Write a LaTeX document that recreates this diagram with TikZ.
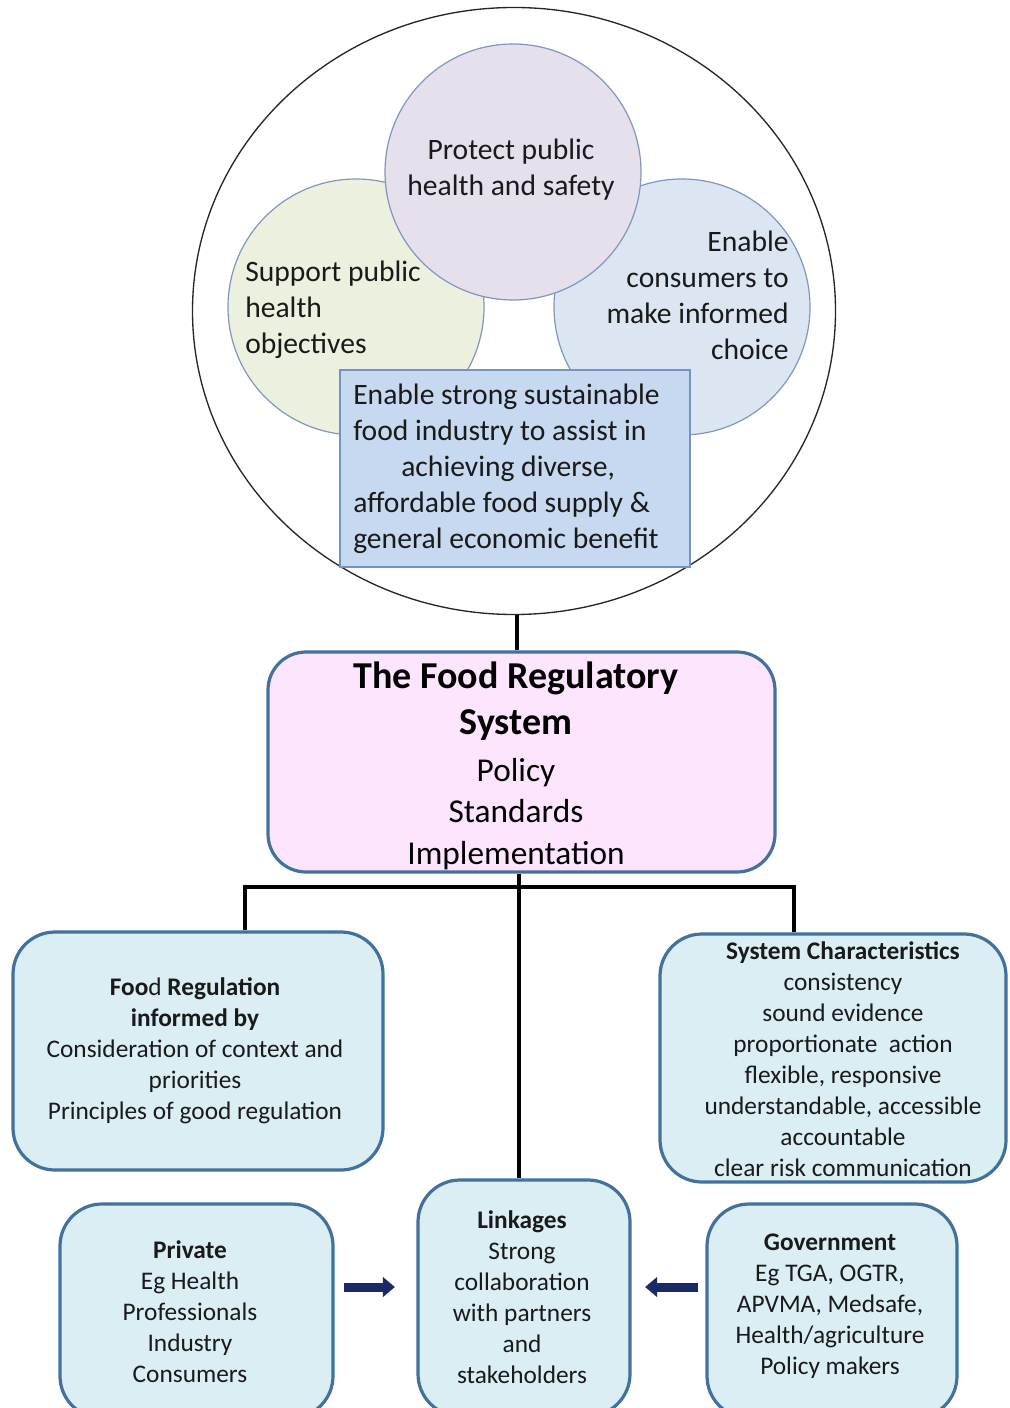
\documentclass[tikz,border=0pt]{standalone}
\usepackage{fontspec}
\setmainfont{Carlito}
\usetikzlibrary{arrows.meta,shapes.geometric}
\newcommand\pxu[1]{#1*0.75pt}
\definecolor{greenf}{HTML}{EBF1DE}
\definecolor{bluef}{HTML}{DCE6F2}
\definecolor{purplef}{HTML}{E6E0EC}
\definecolor{rectf}{HTML}{C6D9F1}
\definecolor{circedge}{HTML}{8096BE}
\definecolor{rectedge}{HTML}{7393C4}
\definecolor{pinkf}{HTML}{FDE5FD}
\definecolor{boxf}{HTML}{DBEEF4}
\definecolor{boxedge}{HTML}{41719C}
\definecolor{navy}{HTML}{1B2A66}
\definecolor{txt}{HTML}{1A1A1A}
\begin{document}
\begin{tikzpicture}[x=0.75pt,y=-0.75pt,
  goalc/.style={circle, draw=circedge, line width=0.9pt, minimum size=\pxu{256}, inner sep=0pt},
  ctext/.style={font=\fontsize{22.2}{27}\selectfont, inner sep=0pt, text=txt},
  rbox/.style={draw=boxedge, line width=2.4pt, fill=boxf, rounded corners=\pxu{42}, inner sep=0pt},
  btext/.style={align=center, inner sep=0pt, text=txt, font=\fontsize{19}{23.2}\selectfont},
  conn/.style={line width=3.4pt, black},
  linkarrow/.style={line width=6.75pt, navy, -{Triangle[length=9pt,width=14.5pt]}}
]
\useasboundingbox (0,0) rectangle (1009,1408);

% goals circle
\node[draw=black!85, line width=1pt, ellipse, minimum width=\pxu{643}, minimum height=\pxu{607}, inner sep=0pt] (goals) at (514,311) {};
\node[goalc, fill=greenf] (health) at (356,307) {};
\node[goalc, fill=bluef] (consumer) at (682,307) {};
\node[goalc, fill=purplef] (protect) at (513,172) {};
\node[ctext, align=center] (protectT) at (511,170) {Protect public\\health and safety};
\node[ctext, align=left, anchor=west] (healthT) at (245,310) {Support public\\health\\objectives};
\node[ctext, align=right, anchor=east] (consumerT) at (789,295) {Enable\\consumers to\\make informed\\choice};
\node[draw=rectedge, line width=0.9pt, fill=rectf, minimum width=\pxu{350}, minimum height=\pxu{197}, inner sep=0pt] (industry) at (515,468.5) {};
\node[ctext, align=left, anchor=west] (industryT) at (353,469) {Enable strong sustainable\\food industry to assist in\\\hspace*{36pt}achieving diverse,\\affordable food supply \&\\general economic benefit};

% food regulatory system
\node[rbox, fill=pinkf, rounded corners=\pxu{38}, minimum width=\pxu{507}, minimum height=\pxu{220}] (frs) at (521.5,762) {};
\node[align=center, inner sep=0pt, text=black, font=\fontsize{25}{31}\selectfont] (frsT) at (516,766) {%
{\fontsize{28.5}{34.5}\selectfont\bfseries The Food Regulatory}\\[3.5pt]
{\fontsize{28.5}{34.5}\selectfont\bfseries System}\\[4pt]
Policy\\
Standards\\
Implementation};

% second row
\node[rbox, minimum width=\pxu{370}, minimum height=\pxu{238}] (inform) at (198,1051) {};
\node[btext] (informT) at (195,1051) {\textbf{Foo}d \textbf{Regulation}\\\textbf{informed by}\\Consideration of context and\\priorities\\Principles of good regulation};
\node[rbox, minimum width=\pxu{346}, minimum height=\pxu{248}] (chars) at (833,1058) {};
\node[btext] (charsT) at (843,1059) {\textbf{System Characteristics}\\consistency\\sound evidence\\proportionate\ \ action\\flexible, responsive\\understandable, accessible\\accountable\\clear risk communication};

% bottom row
\node[rbox, minimum width=\pxu{212}, minimum height=\pxu{236}] (link) at (524,1298) {};
\node[btext] (linkT) at (522,1297) {\textbf{Linkages}\\Strong\\collaboration\\with partners\\and\\stakeholders};
\node[rbox, minimum width=\pxu{273}, minimum height=\pxu{214}] (private) at (196.5,1311) {};
\node[btext] (privateT) at (190,1312) {\textbf{Private}\\Eg Health\\Professionals\\Industry\\Consumers};
\node[rbox, minimum width=\pxu{250}, minimum height=\pxu{214}] (gov) at (832,1311) {};
\node[btext] (govT) at (830,1306) {\textbf{Government}\\Eg TGA, OGTR,\\APVMA, Medsafe,\\Health/agriculture\\Policy makers};

% connectors
\coordinate (bl) at (245,887);
\coordinate (br) at (794,887);
\coordinate (ay) at (0,1287);
\draw[conn] (goals.south -| 517,0) -- (frs.north -| 517,0);
\draw[conn] (frs.south -| 519,0) -- (link.north -| 519,0);
\draw[conn] (inform.north -| bl) -- (bl) -- (br) -- (chars.north -| br);
\draw[linkarrow, shorten <=\pxu{9.5}, shorten >=\pxu{21.5}] (private.east |- ay) -- (link.west |- ay);
\draw[linkarrow, shorten <=\pxu{7.5}, shorten >=\pxu{13.5}] (gov.west |- ay) -- (link.east |- ay);
\end{tikzpicture}
\end{document}
